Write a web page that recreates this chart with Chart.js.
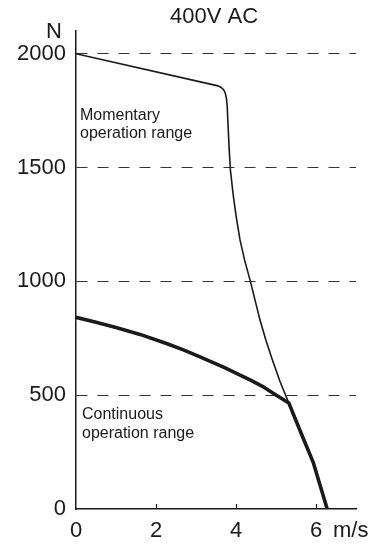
<!DOCTYPE html>
<html>
<head>
<meta charset="utf-8">
<script src="https://cdn.jsdelivr.net/npm/chart.js@4"></script>
<style>
  body{margin:0;background:#fff;}
  #wrap{width:388px;height:544px;}
</style>
</head>
<body>
<div id="wrap"><canvas id="myChart" width="388" height="544"></canvas></div>
<script>
// data
const xTicks = [0, 2, 4, 6]
const yTicks = [0, 500, 1000, 1500, 2000]

const momentarySpeed = [0, 3.55, 3.63, 3.69, 3.73, 3.76, 3.78, 3.8, 3.83, 3.86, 3.93, 4.0, 4.1, 4.22, 4.36, 4.6, 4.75, 4.9, 5.1, 5.32]
const momentaryForce = [2000, 1859, 1852, 1842, 1828, 1805, 1770, 1690, 1580, 1490, 1380, 1290, 1182, 1090, 1000, 830, 740, 660, 560, 466]

const continuousSpeed = [0, 0.5, 1, 1.6, 2.28, 2.7, 3.1, 3.7, 4.35, 4.65, 4.9, 5.1, 5.32, 5.6, 5.93, 6.28]
const continuousForce = [842, 820, 797, 767, 726, 698, 668, 622, 567, 540, 512, 490, 466, 345, 205, 0]

const FONT = "'Liberation Sans', Arial, sans-serif"
const INK = "#1a1a1a"

const toPoints = (xs, ys) => xs.map((x, i) => ({x: x, y: ys[i]}))

const extras = {
    id: "extras",
    afterDraw(chart){
        const ctx = chart.ctx
        const xs = chart.scales.x
        const bottom = chart.chartArea.bottom

        // small inward ticks on the x axis
        ctx.save()
        ctx.strokeStyle = INK
        ctx.lineWidth = 1.2
        xTicks.forEach(function(v){
            if (v === 0) return
            const px = Math.round(xs.getPixelForValue(v)) + 0.5
            ctx.beginPath()
            ctx.moveTo(px, bottom)
            ctx.lineTo(px, bottom - 5)
            ctx.stroke()
        })

        ctx.fillStyle = INK
        ctx.textBaseline = "alphabetic"

        ctx.font = "22px " + FONT
        ctx.textAlign = "center"
        ctx.fillText("400V AC", 214, 23)
        ctx.fillText("N", 54, 38)
        ctx.textAlign = "left"
        ctx.fillText("m/s", 333, 537)

        ctx.font = "16px " + FONT
        ctx.fillText("Momentary", 80, 120)
        ctx.fillText("operation range", 80, 138)
        ctx.fillText("Continuous", 82, 419)
        ctx.fillText("operation range", 82, 438)
        ctx.restore()
    }
}

const diagramm = () => {
    const ctx = document.getElementById("myChart").getContext("2d")

    const data = {
        datasets: [
            {
                label: "Momentary",
                data: toPoints(momentarySpeed, momentaryForce),
                borderColor: INK,
                borderWidth: 1.6,
                pointRadius: 0,
                tension: 0,
                fill: false,
            },
            {
                label: "Continuous",
                data: toPoints(continuousSpeed, continuousForce),
                borderColor: INK,
                borderWidth: 3.6,
                pointRadius: 0,
                tension: 0,
                borderJoinStyle: "round",
                fill: false,
            },
        ],
    }

    const config = {
        type: "line",
        data: data,
        options: {
            responsive: false,
            animation: false,
            layout: {
                padding: {top: 31, right: 32, left: 0, bottom: 0}
            },
            plugins: {
                legend: {display: false},
                tooltip: {enabled: false},
            },
            scales: {
                x: {
                    type: "linear",
                    min: 0,
                    max: 7,
                    afterBuildTicks: (scale) => { scale.ticks = xTicks.map(v => ({value: v})) },
                    afterFit: (scale) => { scale.height = 35 },
                    grid: {display: false},
                    border: {display: true, color: INK, width: 1.5},
                    ticks: {
                        color: INK,
                        padding: 1,
                        maxRotation: 0,
                        font: {family: FONT, size: 22},
                        callback: (v) => String(v),
                    },
                },
                y: {
                    min: 0,
                    max: 2100,
                    afterBuildTicks: (scale) => { scale.ticks = yTicks.map(v => ({value: v})) },
                    afterFit: (scale) => { scale.width = 76 },
                    grid: {
                        drawTicks: false,
                        color: (c) => c.tick && c.tick.value === 0 ? "rgba(0,0,0,0)" : "#333",
                        lineWidth: 1,
                    },
                    border: {display: true, color: INK, width: 1.5, dash: [11, 10]},
                    ticks: {
                        color: INK,
                        padding: 10,
                        font: {family: FONT, size: 22},
                        callback: (v) => String(v),
                    },
                },
            },
        },
        plugins: [extras],
    }

    const myChart = new Chart(ctx, config)
}

diagramm()
</script>
</body>
</html>
